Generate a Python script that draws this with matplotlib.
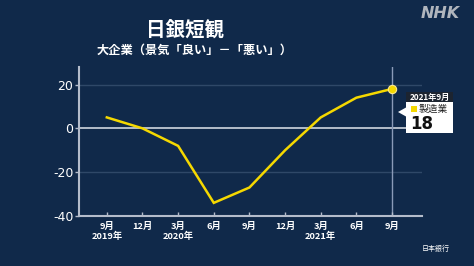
import matplotlib.pyplot as plt
from matplotlib.patches import Rectangle, Polygon

plt.rcParams['font.family'] = ['Noto Sans CJK JP', 'DejaVu Sans']

# Data
months = ['9月\n2019年', '12月', '3月\n2020年', '6月', '9月', '12月', '3月\n2021年', '6月', '9月']
values = [5, 0, -8, -34, -27, -10, 5, 14, 18]
yticks = [-40, -20, 0, 20]

BG = '#10294a'
AXC = '#b4bccb'
YEL = '#f5d800'
W, H = 474, 266

fig = plt.figure(figsize=(W / 100, H / 100), dpi=100, facecolor=BG)


def px(x, y):
    # pixel coords from top-left -> figure fraction
    return x / W, 1 - y / H


ax = fig.add_axes([79 / W, (H - 216) / H, (422 - 79) / W, (216 - 67) / H], facecolor=BG)
xs = list(range(len(values)))
ax.set_xlim(-0.78, 8.84)
ax.set_ylim(-40, 28)

for v in [20, -20]:
    ax.axhline(v, color='#2f4868', lw=1, zorder=1)
ax.axhline(0, color='#d0d6e0', lw=1.2, zorder=1)
ax.axvline(8, color='#8a9ab8', lw=1, zorder=1)

ax.plot(xs, values, color=YEL, lw=1.8, zorder=3, solid_joinstyle='miter')
ax.plot(xs[-1], values[-1], 'o', ms=6, color=YEL, mec='#ffe98a', mew=0.8, zorder=4)

ax.set_xticks(xs)
ax.set_xticklabels(months, fontsize=6.7, fontweight='bold', color='white', linespacing=1.1)
ax.set_yticks(yticks)
ax.set_yticklabels([str(t) for t in yticks], fontsize=9, color='white', family='DejaVu Sans')
ax.tick_params(axis='x', direction='in', length=3, color=AXC, width=1, pad=4)
ax.tick_params(axis='y', direction='out', length=3, color=AXC, width=1, pad=1)
for s in ['top', 'right']:
    ax.spines[s].set_visible(False)
for s in ['left', 'bottom']:
    ax.spines[s].set_color(AXC)
    ax.spines[s].set_linewidth(1.5)

# Titles
fig.text(*px(185, 30), '日銀短観', fontsize=14, fontweight='bold', color='white', ha='center', va='center')
fig.text(*px(195, 50), '大企業（景気「良い」－「悪い」）', fontsize=8.8, fontweight='bold', color='white',
         ha='center', va='center')
fig.text(*px(440, 13), 'NHK', fontsize=11.5, fontweight='bold', style='italic', color='#b0b5bd',
         ha='center', va='center', family='DejaVu Sans')
fig.text(*px(436, 249), '日本銀行', fontsize=5, color='white', ha='center', va='center')

# Annotation box
fig.patches.append(Rectangle(px(406, 102), 47 / W, 10 / H, transform=fig.transFigure,
                             facecolor='#1c2430', edgecolor='none'))
fig.patches.append(Rectangle(px(406, 133), 47 / W, 31 / H, transform=fig.transFigure,
                             facecolor='white', edgecolor='none'))
fig.patches.append(Polygon([px(398, 112), px(406, 107.5), px(406, 116.5)], closed=True,
                           transform=fig.transFigure, facecolor='white', edgecolor='none'))
fig.patches.append(Rectangle(px(411, 112), 6 / W, 6 / H, transform=fig.transFigure,
                             facecolor=YEL, edgecolor='none'))
fig.text(*px(429.5, 97), '2021年9月', fontsize=5.9, fontweight='bold', color='white', ha='center', va='center')
fig.text(*px(419, 109), '製造業', fontsize=7, color='#222222', ha='left', va='center')
fig.text(*px(410, 124), str(values[-1]), fontsize=12, fontweight='bold', color='#111111',
         ha='left', va='center', family='DejaVu Sans')

fig.savefig('out.png', dpi=100, facecolor=BG)
